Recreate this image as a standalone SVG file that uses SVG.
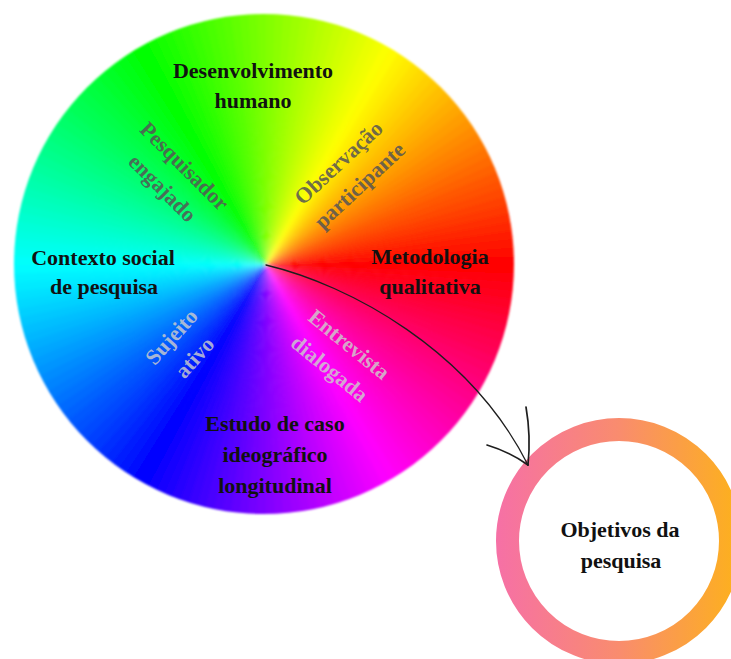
<svg xmlns="http://www.w3.org/2000/svg" xmlns:xlink="http://www.w3.org/1999/xlink" width="731" height="659" viewBox="0 0 731 659">
  <style>
    text { font-family: "Liberation Serif", "Times New Roman", serif; font-weight: bold; font-size: 22px; text-anchor: middle; }
    .main { fill: #111; }
    .dark { fill: #555; fill-opacity: 0.85; }
    .light { fill: #cccccc; fill-opacity: 0.82; }
    .arrow { fill: none; stroke: #1e1e1e; stroke-linecap: round; }
  </style>
  <defs>
    <!-- one thin sector of the hue wheel, rotated into place below -->
    <path id="w" d="M0 0 L400 0 L400 -15.5 Z"/>
    <clipPath id="disc">
      <circle cx="264" cy="264" r="250"/>
    </clipPath>
    <filter id="smooth" x="-5%" y="-5%" width="110%" height="110%">
      <feGaussianBlur stdDeviation="1.6"/>
    </filter>
    <filter id="soft" x="-5%" y="-5%" width="110%" height="110%">
      <feGaussianBlur stdDeviation="0.8"/>
    </filter>
    <linearGradient id="ringGrad" gradientUnits="userSpaceOnUse" x1="496" y1="0" x2="742" y2="0">
      <stop offset="0" stop-color="#f670a6"/>
      <stop offset="0.5" stop-color="#f98c6e"/>
      <stop offset="1" stop-color="#fdb21a"/>
    </linearGradient>
  </defs>

  <rect width="731" height="659" fill="#fff"/>

  <!-- hue wheel: sectors are smoothed, then clipped to the disc, then the rim softened -->
  <g id="wheel" filter="url(#soft)">
    <g clip-path="url(#disc)">
      <g filter="url(#smooth)">
      <g transform="translate(266 265)">
        <use href="#w" transform="rotate(0)" fill="hsl(1,100%,50%)"/>
        <use href="#w" transform="rotate(-2)" fill="hsl(3,100%,50%)"/>
        <use href="#w" transform="rotate(-4)" fill="hsl(5,100%,50%)"/>
        <use href="#w" transform="rotate(-6)" fill="hsl(7,100%,50%)"/>
        <use href="#w" transform="rotate(-8)" fill="hsl(9,100%,50%)"/>
        <use href="#w" transform="rotate(-10)" fill="hsl(11,100%,50%)"/>
        <use href="#w" transform="rotate(-12)" fill="hsl(13,100%,50%)"/>
        <use href="#w" transform="rotate(-14)" fill="hsl(15,100%,50%)"/>
        <use href="#w" transform="rotate(-16)" fill="hsl(17,100%,50%)"/>
        <use href="#w" transform="rotate(-18)" fill="hsl(19,100%,50%)"/>
        <use href="#w" transform="rotate(-20)" fill="hsl(21,100%,50%)"/>
        <use href="#w" transform="rotate(-22)" fill="hsl(23,100%,50%)"/>
        <use href="#w" transform="rotate(-24)" fill="hsl(25,100%,50%)"/>
        <use href="#w" transform="rotate(-26)" fill="hsl(27,100%,50%)"/>
        <use href="#w" transform="rotate(-28)" fill="hsl(29,100%,50%)"/>
        <use href="#w" transform="rotate(-30)" fill="hsl(31,100%,50%)"/>
        <use href="#w" transform="rotate(-32)" fill="hsl(33,100%,50%)"/>
        <use href="#w" transform="rotate(-34)" fill="hsl(35,100%,50%)"/>
        <use href="#w" transform="rotate(-36)" fill="hsl(37,100%,50%)"/>
        <use href="#w" transform="rotate(-38)" fill="hsl(39,100%,50%)"/>
        <use href="#w" transform="rotate(-40)" fill="hsl(41,100%,50%)"/>
        <use href="#w" transform="rotate(-42)" fill="hsl(43,100%,50%)"/>
        <use href="#w" transform="rotate(-44)" fill="hsl(45,100%,50%)"/>
        <use href="#w" transform="rotate(-46)" fill="hsl(47,100%,50%)"/>
        <use href="#w" transform="rotate(-48)" fill="hsl(49,100%,50%)"/>
        <use href="#w" transform="rotate(-50)" fill="hsl(51,100%,50%)"/>
        <use href="#w" transform="rotate(-52)" fill="hsl(53,100%,50%)"/>
        <use href="#w" transform="rotate(-54)" fill="hsl(55,100%,50%)"/>
        <use href="#w" transform="rotate(-56)" fill="hsl(57,100%,50%)"/>
        <use href="#w" transform="rotate(-58)" fill="hsl(59,100%,50%)"/>
        <use href="#w" transform="rotate(-60)" fill="hsl(61,100%,50%)"/>
        <use href="#w" transform="rotate(-62)" fill="hsl(63,100%,50%)"/>
        <use href="#w" transform="rotate(-64)" fill="hsl(65,100%,50%)"/>
        <use href="#w" transform="rotate(-66)" fill="hsl(67,100%,50%)"/>
        <use href="#w" transform="rotate(-68)" fill="hsl(69,100%,50%)"/>
        <use href="#w" transform="rotate(-70)" fill="hsl(71,100%,50%)"/>
        <use href="#w" transform="rotate(-72)" fill="hsl(73,100%,50%)"/>
        <use href="#w" transform="rotate(-74)" fill="hsl(75,100%,50%)"/>
        <use href="#w" transform="rotate(-76)" fill="hsl(77,100%,50%)"/>
        <use href="#w" transform="rotate(-78)" fill="hsl(79,100%,50%)"/>
        <use href="#w" transform="rotate(-80)" fill="hsl(81,100%,50%)"/>
        <use href="#w" transform="rotate(-82)" fill="hsl(83,100%,50%)"/>
        <use href="#w" transform="rotate(-84)" fill="hsl(85,100%,50%)"/>
        <use href="#w" transform="rotate(-86)" fill="hsl(87,100%,50%)"/>
        <use href="#w" transform="rotate(-88)" fill="hsl(89,100%,50%)"/>
        <use href="#w" transform="rotate(-90)" fill="hsl(91,100%,50%)"/>
        <use href="#w" transform="rotate(-92)" fill="hsl(93,100%,50%)"/>
        <use href="#w" transform="rotate(-94)" fill="hsl(95,100%,50%)"/>
        <use href="#w" transform="rotate(-96)" fill="hsl(97,100%,50%)"/>
        <use href="#w" transform="rotate(-98)" fill="hsl(99,100%,50%)"/>
        <use href="#w" transform="rotate(-100)" fill="hsl(101,100%,50%)"/>
        <use href="#w" transform="rotate(-102)" fill="hsl(103,100%,50%)"/>
        <use href="#w" transform="rotate(-104)" fill="hsl(105,100%,50%)"/>
        <use href="#w" transform="rotate(-106)" fill="hsl(107,100%,50%)"/>
        <use href="#w" transform="rotate(-108)" fill="hsl(109,100%,50%)"/>
        <use href="#w" transform="rotate(-110)" fill="hsl(111,100%,50%)"/>
        <use href="#w" transform="rotate(-112)" fill="hsl(113,100%,50%)"/>
        <use href="#w" transform="rotate(-114)" fill="hsl(115,100%,50%)"/>
        <use href="#w" transform="rotate(-116)" fill="hsl(117,100%,50%)"/>
        <use href="#w" transform="rotate(-118)" fill="hsl(119,100%,50%)"/>
        <use href="#w" transform="rotate(-120)" fill="hsl(121,100%,50%)"/>
        <use href="#w" transform="rotate(-122)" fill="hsl(123,100%,50%)"/>
        <use href="#w" transform="rotate(-124)" fill="hsl(125,100%,50%)"/>
        <use href="#w" transform="rotate(-126)" fill="hsl(127,100%,50%)"/>
        <use href="#w" transform="rotate(-128)" fill="hsl(129,100%,50%)"/>
        <use href="#w" transform="rotate(-130)" fill="hsl(131,100%,50%)"/>
        <use href="#w" transform="rotate(-132)" fill="hsl(133,100%,50%)"/>
        <use href="#w" transform="rotate(-134)" fill="hsl(135,100%,50%)"/>
        <use href="#w" transform="rotate(-136)" fill="hsl(137,100%,50%)"/>
        <use href="#w" transform="rotate(-138)" fill="hsl(139,100%,50%)"/>
        <use href="#w" transform="rotate(-140)" fill="hsl(141,100%,50%)"/>
        <use href="#w" transform="rotate(-142)" fill="hsl(143,100%,50%)"/>
        <use href="#w" transform="rotate(-144)" fill="hsl(145,100%,50%)"/>
        <use href="#w" transform="rotate(-146)" fill="hsl(147,100%,50%)"/>
        <use href="#w" transform="rotate(-148)" fill="hsl(149,100%,50%)"/>
        <use href="#w" transform="rotate(-150)" fill="hsl(151,100%,50%)"/>
        <use href="#w" transform="rotate(-152)" fill="hsl(153,100%,50%)"/>
        <use href="#w" transform="rotate(-154)" fill="hsl(155,100%,50%)"/>
        <use href="#w" transform="rotate(-156)" fill="hsl(157,100%,50%)"/>
        <use href="#w" transform="rotate(-158)" fill="hsl(159,100%,50%)"/>
        <use href="#w" transform="rotate(-160)" fill="hsl(161,100%,50%)"/>
        <use href="#w" transform="rotate(-162)" fill="hsl(163,100%,50%)"/>
        <use href="#w" transform="rotate(-164)" fill="hsl(165,100%,50%)"/>
        <use href="#w" transform="rotate(-166)" fill="hsl(167,100%,50%)"/>
        <use href="#w" transform="rotate(-168)" fill="hsl(169,100%,50%)"/>
        <use href="#w" transform="rotate(-170)" fill="hsl(171,100%,50%)"/>
        <use href="#w" transform="rotate(-172)" fill="hsl(173,100%,50%)"/>
        <use href="#w" transform="rotate(-174)" fill="hsl(175,100%,50%)"/>
        <use href="#w" transform="rotate(-176)" fill="hsl(177,100%,50%)"/>
        <use href="#w" transform="rotate(-178)" fill="hsl(179,100%,50%)"/>
        <use href="#w" transform="rotate(-180)" fill="hsl(181,100%,50%)"/>
        <use href="#w" transform="rotate(-182)" fill="hsl(183,100%,50%)"/>
        <use href="#w" transform="rotate(-184)" fill="hsl(185,100%,50%)"/>
        <use href="#w" transform="rotate(-186)" fill="hsl(187,100%,50%)"/>
        <use href="#w" transform="rotate(-188)" fill="hsl(189,100%,50%)"/>
        <use href="#w" transform="rotate(-190)" fill="hsl(191,100%,50%)"/>
        <use href="#w" transform="rotate(-192)" fill="hsl(193,100%,50%)"/>
        <use href="#w" transform="rotate(-194)" fill="hsl(195,100%,50%)"/>
        <use href="#w" transform="rotate(-196)" fill="hsl(197,100%,50%)"/>
        <use href="#w" transform="rotate(-198)" fill="hsl(199,100%,50%)"/>
        <use href="#w" transform="rotate(-200)" fill="hsl(201,100%,50%)"/>
        <use href="#w" transform="rotate(-202)" fill="hsl(203,100%,50%)"/>
        <use href="#w" transform="rotate(-204)" fill="hsl(205,100%,50%)"/>
        <use href="#w" transform="rotate(-206)" fill="hsl(207,100%,50%)"/>
        <use href="#w" transform="rotate(-208)" fill="hsl(209,100%,50%)"/>
        <use href="#w" transform="rotate(-210)" fill="hsl(211,100%,50%)"/>
        <use href="#w" transform="rotate(-212)" fill="hsl(213,100%,50%)"/>
        <use href="#w" transform="rotate(-214)" fill="hsl(215,100%,50%)"/>
        <use href="#w" transform="rotate(-216)" fill="hsl(217,100%,50%)"/>
        <use href="#w" transform="rotate(-218)" fill="hsl(219,100%,50%)"/>
        <use href="#w" transform="rotate(-220)" fill="hsl(221,100%,50%)"/>
        <use href="#w" transform="rotate(-222)" fill="hsl(223,100%,50%)"/>
        <use href="#w" transform="rotate(-224)" fill="hsl(225,100%,50%)"/>
        <use href="#w" transform="rotate(-226)" fill="hsl(227,100%,50%)"/>
        <use href="#w" transform="rotate(-228)" fill="hsl(229,100%,50%)"/>
        <use href="#w" transform="rotate(-230)" fill="hsl(231,100%,50%)"/>
        <use href="#w" transform="rotate(-232)" fill="hsl(233,100%,50%)"/>
        <use href="#w" transform="rotate(-234)" fill="hsl(235,100%,50%)"/>
        <use href="#w" transform="rotate(-236)" fill="hsl(237,100%,50%)"/>
        <use href="#w" transform="rotate(-238)" fill="hsl(239,100%,50%)"/>
        <use href="#w" transform="rotate(-240)" fill="hsl(241,100%,50%)"/>
        <use href="#w" transform="rotate(-242)" fill="hsl(243,100%,50%)"/>
        <use href="#w" transform="rotate(-244)" fill="hsl(245,100%,50%)"/>
        <use href="#w" transform="rotate(-246)" fill="hsl(247,100%,50%)"/>
        <use href="#w" transform="rotate(-248)" fill="hsl(249,100%,50%)"/>
        <use href="#w" transform="rotate(-250)" fill="hsl(251,100%,50%)"/>
        <use href="#w" transform="rotate(-252)" fill="hsl(253,100%,50%)"/>
        <use href="#w" transform="rotate(-254)" fill="hsl(255,100%,50%)"/>
        <use href="#w" transform="rotate(-256)" fill="hsl(257,100%,50%)"/>
        <use href="#w" transform="rotate(-258)" fill="hsl(259,100%,50%)"/>
        <use href="#w" transform="rotate(-260)" fill="hsl(261,100%,50%)"/>
        <use href="#w" transform="rotate(-262)" fill="hsl(263,100%,50%)"/>
        <use href="#w" transform="rotate(-264)" fill="hsl(265,100%,50%)"/>
        <use href="#w" transform="rotate(-266)" fill="hsl(267,100%,50%)"/>
        <use href="#w" transform="rotate(-268)" fill="hsl(269,100%,50%)"/>
        <use href="#w" transform="rotate(-270)" fill="hsl(271,100%,50%)"/>
        <use href="#w" transform="rotate(-272)" fill="hsl(273,100%,50%)"/>
        <use href="#w" transform="rotate(-274)" fill="hsl(275,100%,50%)"/>
        <use href="#w" transform="rotate(-276)" fill="hsl(277,100%,50%)"/>
        <use href="#w" transform="rotate(-278)" fill="hsl(279,100%,50%)"/>
        <use href="#w" transform="rotate(-280)" fill="hsl(281,100%,50%)"/>
        <use href="#w" transform="rotate(-282)" fill="hsl(283,100%,50%)"/>
        <use href="#w" transform="rotate(-284)" fill="hsl(285,100%,50%)"/>
        <use href="#w" transform="rotate(-286)" fill="hsl(287,100%,50%)"/>
        <use href="#w" transform="rotate(-288)" fill="hsl(289,100%,50%)"/>
        <use href="#w" transform="rotate(-290)" fill="hsl(291,100%,50%)"/>
        <use href="#w" transform="rotate(-292)" fill="hsl(293,100%,50%)"/>
        <use href="#w" transform="rotate(-294)" fill="hsl(295,100%,50%)"/>
        <use href="#w" transform="rotate(-296)" fill="hsl(297,100%,50%)"/>
        <use href="#w" transform="rotate(-298)" fill="hsl(299,100%,50%)"/>
        <use href="#w" transform="rotate(-300)" fill="hsl(301,100%,50%)"/>
        <use href="#w" transform="rotate(-302)" fill="hsl(303,100%,50%)"/>
        <use href="#w" transform="rotate(-304)" fill="hsl(305,100%,50%)"/>
        <use href="#w" transform="rotate(-306)" fill="hsl(307,100%,50%)"/>
        <use href="#w" transform="rotate(-308)" fill="hsl(309,100%,50%)"/>
        <use href="#w" transform="rotate(-310)" fill="hsl(311,100%,50%)"/>
        <use href="#w" transform="rotate(-312)" fill="hsl(313,100%,50%)"/>
        <use href="#w" transform="rotate(-314)" fill="hsl(315,100%,50%)"/>
        <use href="#w" transform="rotate(-316)" fill="hsl(317,100%,50%)"/>
        <use href="#w" transform="rotate(-318)" fill="hsl(319,100%,50%)"/>
        <use href="#w" transform="rotate(-320)" fill="hsl(321,100%,50%)"/>
        <use href="#w" transform="rotate(-322)" fill="hsl(323,100%,50%)"/>
        <use href="#w" transform="rotate(-324)" fill="hsl(325,100%,50%)"/>
        <use href="#w" transform="rotate(-326)" fill="hsl(327,100%,50%)"/>
        <use href="#w" transform="rotate(-328)" fill="hsl(329,100%,50%)"/>
        <use href="#w" transform="rotate(-330)" fill="hsl(331,100%,50%)"/>
        <use href="#w" transform="rotate(-332)" fill="hsl(333,100%,50%)"/>
        <use href="#w" transform="rotate(-334)" fill="hsl(335,100%,50%)"/>
        <use href="#w" transform="rotate(-336)" fill="hsl(337,100%,50%)"/>
        <use href="#w" transform="rotate(-338)" fill="hsl(339,100%,50%)"/>
        <use href="#w" transform="rotate(-340)" fill="hsl(341,100%,50%)"/>
        <use href="#w" transform="rotate(-342)" fill="hsl(343,100%,50%)"/>
        <use href="#w" transform="rotate(-344)" fill="hsl(345,100%,50%)"/>
        <use href="#w" transform="rotate(-346)" fill="hsl(347,100%,50%)"/>
        <use href="#w" transform="rotate(-348)" fill="hsl(349,100%,50%)"/>
        <use href="#w" transform="rotate(-350)" fill="hsl(351,100%,50%)"/>
        <use href="#w" transform="rotate(-352)" fill="hsl(353,100%,50%)"/>
        <use href="#w" transform="rotate(-354)" fill="hsl(355,100%,50%)"/>
        <use href="#w" transform="rotate(-356)" fill="hsl(357,100%,50%)"/>
        <use href="#w" transform="rotate(-358)" fill="hsl(359,100%,50%)"/>
      </g>
      </g>
    </g>
  </g>

  <!-- labels on the wheel -->
  <g id="desenvolvimento-humano">
    <text class="main" x="253" y="78">Desenvolvimento</text>
    <text class="main" x="253" y="108">humano</text>
  </g>
  <g id="contexto-social">
    <text class="main" x="103" y="265">Contexto social</text>
    <text class="main" x="104" y="294">de pesquisa</text>
  </g>
  <g id="metodologia-qualitativa">
    <text class="main" x="430" y="264">Metodologia</text>
    <text class="main" x="430" y="294">qualitativa</text>
  </g>
  <g id="estudo-de-caso">
    <text class="main" x="275" y="431">Estudo de caso</text>
    <text class="main" x="275" y="462">ideográfico</text>
    <text class="main" x="275" y="493">longitudinal</text>
  </g>
  <g id="pesquisador-engajado" transform="translate(172.5 178) rotate(45)">
    <text class="dark" x="0" y="-9.5">Pesquisador</text>
    <text class="dark" x="0" y="21.5">engajado</text>
  </g>
  <g id="observacao-participante" transform="translate(350 175) rotate(-43)">
    <text class="dark" x="0" y="-9.5">Observação</text>
    <text class="dark" x="0" y="21.5">participante</text>
  </g>
  <g id="sujeito-ativo" transform="translate(184 348) rotate(-48)">
    <text class="light" x="0" y="-9.5">Sujeito</text>
    <text class="light" x="0" y="21.5">ativo</text>
  </g>
  <g id="entrevista-dialogada" transform="translate(338.5 357.5) rotate(39)">
    <text class="light" x="0" y="-9.5">Entrevista</text>
    <text class="light" x="0" y="21.5">dialogada</text>
  </g>

  <!-- target ring -->
  <g id="objetivos">
    <circle cx="619" cy="541" r="111.5" fill="#fff" stroke="url(#ringGrad)" stroke-width="23"/>
    <text class="main" x="620" y="537">Objetivos da</text>
    <text class="main" x="621" y="568">pesquisa</text>
  </g>

  <!-- curved connector from the wheel centre to the ring -->
  <g id="connectors">
    <path class="arrow" stroke-width="1.3" d="M266 265 C350 285 470 350 528 465"/>
    <path class="arrow" stroke-width="1.7" d="M526 407 Q531 436 528 465"/>
    <path class="arrow" stroke-width="1.7" d="M487 445 Q510 452 528 465"/>
  </g>
</svg>
